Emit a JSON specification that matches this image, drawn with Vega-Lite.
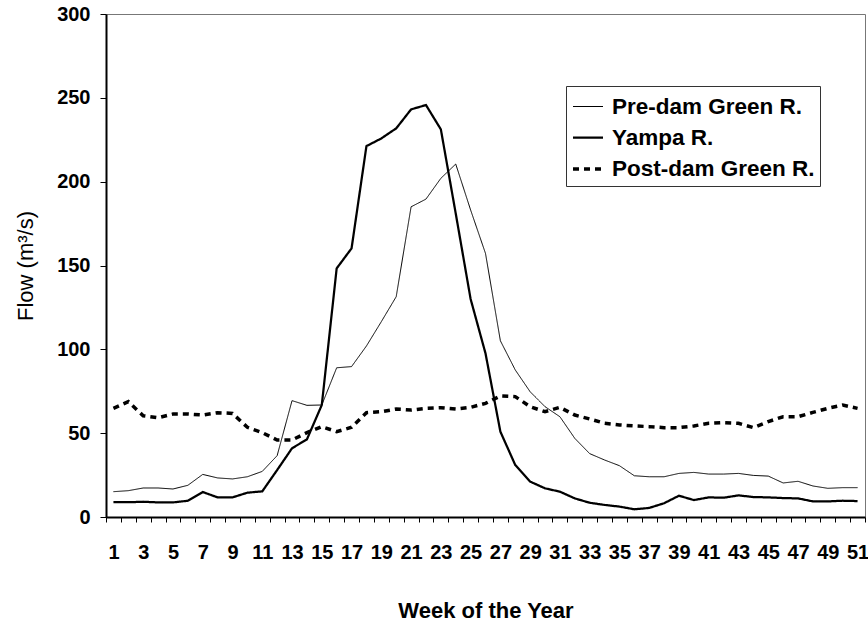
{
  "$schema": "https://vega.github.io/schema/vega-lite/v6.json",
  "width": 759,
  "height": 503,
  "autosize": "none",
  "padding": {"left": 106, "top": 14, "right": 3, "bottom": 105},
  "background": "white",
  "config": {
    "font": "Liberation Sans",
    "view": {"stroke": "#777777", "strokeWidth": 1},
    "axis": {"grid": false, "domainColor": "black", "domainWidth": 2, "tickColor": "black", "tickWidth": 1, "labelColor": "black", "titleColor": "black", "labelFont": "Liberation Sans", "titleFont": "Liberation Sans"},
    "legend": {"orient": "none", "legendX": 460, "legendY": 72, "strokeColor": "#333333", "fillColor": "white", "padding": 5, "labelFontSize": 22.5, "labelFontWeight": "bold", "labelColor": "black", "labelFont": "Liberation Sans", "symbolType": "stroke", "symbolSize": 900, "symbolStrokeColor": "black", "labelOffset": 7, "rowPadding": 3, "labelLimit": 400}
  },
  "data": {"values": [
    {"week":1,"series":"Pre-dam Green R.","flow":15.1},{"week":2,"series":"Pre-dam Green R.","flow":15.7},{"week":3,"series":"Pre-dam Green R.","flow":17.3},{"week":4,"series":"Pre-dam Green R.","flow":17.3},{"week":5,"series":"Pre-dam Green R.","flow":16.7},{"week":6,"series":"Pre-dam Green R.","flow":18.9},{"week":7,"series":"Pre-dam Green R.","flow":25.4},{"week":8,"series":"Pre-dam Green R.","flow":23.3},{"week":9,"series":"Pre-dam Green R.","flow":22.7},{"week":10,"series":"Pre-dam Green R.","flow":24.0},
    {"week":11,"series":"Pre-dam Green R.","flow":27.2},{"week":12,"series":"Pre-dam Green R.","flow":36.6},{"week":13,"series":"Pre-dam Green R.","flow":69.4},{"week":14,"series":"Pre-dam Green R.","flow":66.6},{"week":15,"series":"Pre-dam Green R.","flow":66.8},{"week":16,"series":"Pre-dam Green R.","flow":89.0},{"week":17,"series":"Pre-dam Green R.","flow":89.7},{"week":18,"series":"Pre-dam Green R.","flow":102.0},{"week":19,"series":"Pre-dam Green R.","flow":116.5},{"week":20,"series":"Pre-dam Green R.","flow":131.4},
    {"week":21,"series":"Pre-dam Green R.","flow":185.0},{"week":22,"series":"Pre-dam Green R.","flow":189.6},{"week":23,"series":"Pre-dam Green R.","flow":202.0},{"week":24,"series":"Pre-dam Green R.","flow":210.5},{"week":25,"series":"Pre-dam Green R.","flow":183.1},{"week":26,"series":"Pre-dam Green R.","flow":157.2},{"week":27,"series":"Pre-dam Green R.","flow":105.1},{"week":28,"series":"Pre-dam Green R.","flow":87.7},{"week":29,"series":"Pre-dam Green R.","flow":74.7},{"week":30,"series":"Pre-dam Green R.","flow":65.8},
    {"week":31,"series":"Pre-dam Green R.","flow":59.8},{"week":32,"series":"Pre-dam Green R.","flow":46.9},{"week":33,"series":"Pre-dam Green R.","flow":37.8},{"week":34,"series":"Pre-dam Green R.","flow":34.0},{"week":35,"series":"Pre-dam Green R.","flow":30.6},{"week":36,"series":"Pre-dam Green R.","flow":24.6},{"week":37,"series":"Pre-dam Green R.","flow":24.0},{"week":38,"series":"Pre-dam Green R.","flow":24.0},{"week":39,"series":"Pre-dam Green R.","flow":26.0},{"week":40,"series":"Pre-dam Green R.","flow":26.6},
    {"week":41,"series":"Pre-dam Green R.","flow":25.6},{"week":42,"series":"Pre-dam Green R.","flow":25.6},{"week":43,"series":"Pre-dam Green R.","flow":26.0},{"week":44,"series":"Pre-dam Green R.","flow":24.8},{"week":45,"series":"Pre-dam Green R.","flow":24.4},{"week":46,"series":"Pre-dam Green R.","flow":20.3},{"week":47,"series":"Pre-dam Green R.","flow":21.3},{"week":48,"series":"Pre-dam Green R.","flow":18.5},{"week":49,"series":"Pre-dam Green R.","flow":17.1},{"week":50,"series":"Pre-dam Green R.","flow":17.5},{"week":51,"series":"Pre-dam Green R.","flow":17.5},
    {"week":1,"series":"Yampa R.","flow":8.8},{"week":2,"series":"Yampa R.","flow":8.8},{"week":3,"series":"Yampa R.","flow":9.1},{"week":4,"series":"Yampa R.","flow":8.7},{"week":5,"series":"Yampa R.","flow":8.7},{"week":6,"series":"Yampa R.","flow":9.7},{"week":7,"series":"Yampa R.","flow":14.9},{"week":8,"series":"Yampa R.","flow":11.7},{"week":9,"series":"Yampa R.","flow":11.7},{"week":10,"series":"Yampa R.","flow":14.5},
    {"week":11,"series":"Yampa R.","flow":15.3},{"week":12,"series":"Yampa R.","flow":28.0},{"week":13,"series":"Yampa R.","flow":41.0},{"week":14,"series":"Yampa R.","flow":46.3},{"week":15,"series":"Yampa R.","flow":66.8},{"week":16,"series":"Yampa R.","flow":148.3},{"week":17,"series":"Yampa R.","flow":160.2},{"week":18,"series":"Yampa R.","flow":221.2},{"week":19,"series":"Yampa R.","flow":225.8},{"week":20,"series":"Yampa R.","flow":231.8},
    {"week":21,"series":"Yampa R.","flow":243.1},{"week":22,"series":"Yampa R.","flow":245.7},{"week":23,"series":"Yampa R.","flow":231.2},{"week":24,"series":"Yampa R.","flow":181.0},{"week":25,"series":"Yampa R.","flow":130.0},{"week":26,"series":"Yampa R.","flow":97.6},{"week":27,"series":"Yampa R.","flow":50.9},{"week":28,"series":"Yampa R.","flow":31.0},{"week":29,"series":"Yampa R.","flow":21.1},{"week":30,"series":"Yampa R.","flow":17.1},
    {"week":31,"series":"Yampa R.","flow":15.1},{"week":32,"series":"Yampa R.","flow":11.1},{"week":33,"series":"Yampa R.","flow":8.5},{"week":34,"series":"Yampa R.","flow":7.2},{"week":35,"series":"Yampa R.","flow":6.2},{"week":36,"series":"Yampa R.","flow":4.6},{"week":37,"series":"Yampa R.","flow":5.4},{"week":38,"series":"Yampa R.","flow":8.2},{"week":39,"series":"Yampa R.","flow":12.7},{"week":40,"series":"Yampa R.","flow":10.1},
    {"week":41,"series":"Yampa R.","flow":11.7},{"week":42,"series":"Yampa R.","flow":11.5},{"week":43,"series":"Yampa R.","flow":12.9},{"week":44,"series":"Yampa R.","flow":11.9},{"week":45,"series":"Yampa R.","flow":11.7},{"week":46,"series":"Yampa R.","flow":11.3},{"week":47,"series":"Yampa R.","flow":11.1},{"week":48,"series":"Yampa R.","flow":9.3},{"week":49,"series":"Yampa R.","flow":9.3},{"week":50,"series":"Yampa R.","flow":9.7},{"week":51,"series":"Yampa R.","flow":9.5},
    {"week":1,"series":"Post-dam Green R.","flow":64.8},{"week":2,"series":"Post-dam Green R.","flow":68.8},{"week":3,"series":"Post-dam Green R.","flow":60.4},{"week":4,"series":"Post-dam Green R.","flow":59.2},{"week":5,"series":"Post-dam Green R.","flow":61.4},{"week":6,"series":"Post-dam Green R.","flow":61.4},{"week":7,"series":"Post-dam Green R.","flow":60.8},{"week":8,"series":"Post-dam Green R.","flow":62.2},{"week":9,"series":"Post-dam Green R.","flow":61.8},{"week":10,"series":"Post-dam Green R.","flow":53.5},
    {"week":11,"series":"Post-dam Green R.","flow":50.3},{"week":12,"series":"Post-dam Green R.","flow":45.9},{"week":13,"series":"Post-dam Green R.","flow":45.9},{"week":14,"series":"Post-dam Green R.","flow":50.3},{"week":15,"series":"Post-dam Green R.","flow":53.9},{"week":16,"series":"Post-dam Green R.","flow":50.9},{"week":17,"series":"Post-dam Green R.","flow":53.5},{"week":18,"series":"Post-dam Green R.","flow":62.2},{"week":19,"series":"Post-dam Green R.","flow":62.8},{"week":20,"series":"Post-dam Green R.","flow":64.4},
    {"week":21,"series":"Post-dam Green R.","flow":63.8},{"week":22,"series":"Post-dam Green R.","flow":64.8},{"week":23,"series":"Post-dam Green R.","flow":65.2},{"week":24,"series":"Post-dam Green R.","flow":64.4},{"week":25,"series":"Post-dam Green R.","flow":65.4},{"week":26,"series":"Post-dam Green R.","flow":67.8},{"week":27,"series":"Post-dam Green R.","flow":72.2},{"week":28,"series":"Post-dam Green R.","flow":71.8},{"week":29,"series":"Post-dam Green R.","flow":65.8},{"week":30,"series":"Post-dam Green R.","flow":62.8},
    {"week":31,"series":"Post-dam Green R.","flow":65.4},{"week":32,"series":"Post-dam Green R.","flow":60.8},{"week":33,"series":"Post-dam Green R.","flow":58.5},{"week":34,"series":"Post-dam Green R.","flow":55.9},{"week":35,"series":"Post-dam Green R.","flow":54.9},{"week":36,"series":"Post-dam Green R.","flow":54.3},{"week":37,"series":"Post-dam Green R.","flow":53.9},{"week":38,"series":"Post-dam Green R.","flow":53.3},{"week":39,"series":"Post-dam Green R.","flow":53.3},{"week":40,"series":"Post-dam Green R.","flow":54.3},
    {"week":41,"series":"Post-dam Green R.","flow":55.9},{"week":42,"series":"Post-dam Green R.","flow":56.3},{"week":43,"series":"Post-dam Green R.","flow":55.9},{"week":44,"series":"Post-dam Green R.","flow":53.3},{"week":45,"series":"Post-dam Green R.","flow":56.9},{"week":46,"series":"Post-dam Green R.","flow":59.8},{"week":47,"series":"Post-dam Green R.","flow":59.8},{"week":48,"series":"Post-dam Green R.","flow":62.4},{"week":49,"series":"Post-dam Green R.","flow":64.8},{"week":50,"series":"Post-dam Green R.","flow":66.8},{"week":51,"series":"Post-dam Green R.","flow":64.8}
  ]},
  "mark": {"type": "line", "color": "black"},
  "encoding": {
    "x": {"field": "week", "type": "ordinal", "scale": {"type": "band", "paddingInner": 0, "paddingOuter": 0},
      "axis": {"title": "Week of the Year", "labelAngle": 0, "tickBand": "extent", "tickSize": 5, "labelExpr": "datum.value % 2 === 1 ? datum.label : ''", "labelFontSize": 20, "labelFontWeight": "bold", "labelPadding": 20, "labelOverlap": false, "titleFontSize": 22, "titleFontWeight": "bold", "titlePadding": 38}},
    "y": {"field": "flow", "type": "quantitative", "scale": {"domain": [0, 300], "nice": false},
      "axis": {"title": "Flow (m³/s)", "values": [0, 50, 100, 150, 200, 250, 300], "tickSize": 6, "labelFontSize": 20, "labelFontWeight": "bold", "labelPadding": 10, "titleFontSize": 22, "titleFontWeight": "normal", "titlePadding": 19}},
    "strokeWidth": {"field": "series", "type": "nominal", "scale": {"domain": ["Pre-dam Green R.", "Yampa R.", "Post-dam Green R."], "range": [1, 3.5, 4]}, "legend": {"title": null}},
    "strokeDash": {"field": "series", "type": "nominal", "scale": {"domain": ["Pre-dam Green R.", "Yampa R.", "Post-dam Green R."], "range": [[1, 0], [1, 0], [6, 5]]}, "legend": {"title": null}}
  }
}
